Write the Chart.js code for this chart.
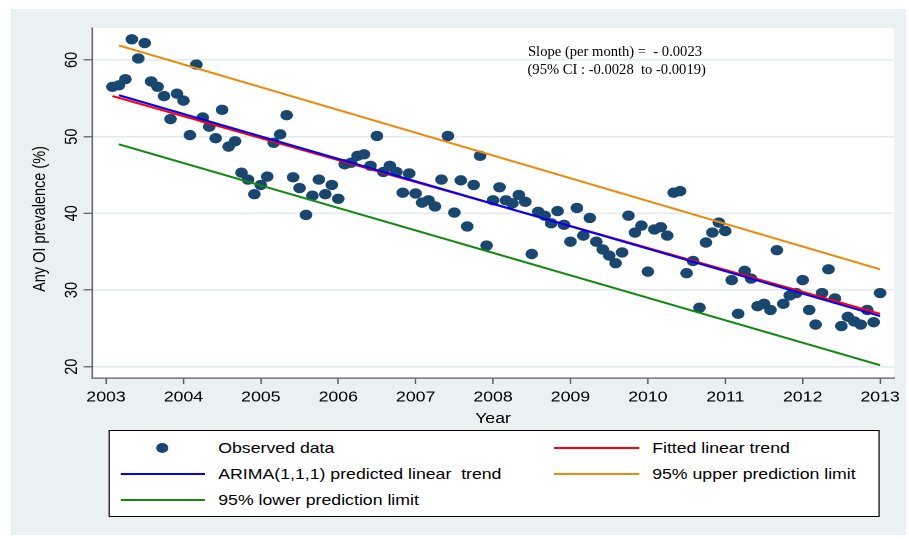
<!DOCTYPE html>
<html>
<head>
<meta charset="utf-8">
<script src="https://cdn.jsdelivr.net/npm/chart.js@4/dist/chart.umd.min.js"></script>
<style>
  html, body { margin:0; padding:0; background:#ffffff; width:909px; height:539px; overflow:hidden; }
  #stage { position:absolute; left:0; top:0; width:745px; height:539px; transform:scaleX(1.2201); transform-origin:0 0; }
  #c { position:absolute; left:0; top:0; }
  #legend { position:absolute; left:88.5px; top:430px; width:632px; height:87px; box-sizing:border-box;
            border:1px solid #000; background:#fff; font-family:"Liberation Sans", Arial, sans-serif; font-size:14.5px; color:#000; }
  .item { position:absolute; height:20px; line-height:20px; white-space:pre; }
  .sym { position:absolute; }
  .note { position:absolute; font-family:"Liberation Serif", "Times New Roman", serif; font-size:14.6px; line-height:17px; white-space:pre; color:#000; }
</style>
</head>
<body>
<div id="stage">
  <canvas id="c" width="745" height="539"></canvas>
  <div id="legend"></div>
</div>
<div class="note" id="note1" style="left:528px; top:43px;"></div>
<div class="note" id="note2" style="left:527.5px; top:60.5px;"></div>
<script>
// ---------------- DATA ----------------
const startYear = 2003;
// monthly observed prevalence (%), Jan 2003 .. Dec 2012 (month index 1..120)
const observed = [
  56.5, 56.7, 57.5, 62.7, 60.2, 62.2, 57.2, 56.5, 55.3, 52.3, 55.6, 54.7,
  50.2, 59.4, 52.5, 51.3, 49.8, 53.5, 48.7, 49.4, 45.3, 44.4, 42.5, 43.7,
  44.8, 49.2, 50.3, 52.8, 44.7, 43.3, 39.8, 42.3, 44.4, 42.5, 43.7, 41.9,
  46.4, 46.6, 47.5, 47.7, 46.2, 50.1, 45.4, 46.2, 45.4, 42.7, 45.2, 42.6,
  41.4, 41.7, 40.9, 44.4, 50.1, 40.1, 44.3, 38.3, 43.7, 47.5, 35.8, 41.7,
  43.4, 41.7, 41.3, 42.4, 41.5, 34.7, 40.2, 39.7, 38.7, 40.3, 38.5, 36.3,
  40.7, 37.1, 39.4, 36.3, 35.3, 34.5, 33.5, 34.9, 39.7, 37.5, 38.4, 32.4,
  37.9, 38.2, 37.1, 42.7, 42.9, 32.2, 33.8, 27.7, 36.2, 37.5, 38.8, 37.7,
  31.3, 26.9, 32.5, 31.5, 27.9, 28.2, 27.4, 35.2, 28.2, 29.3, 29.6, 31.3,
  27.4, 25.5, 29.6, 32.7, 28.9, 25.3, 26.5, 25.9, 25.5, 27.4, 25.8, 29.6
];
const fittedMonths = [1, 120];
const fittedTrend  = [55.3, 26.9];
const predMonths   = [2, 120];
const arimaTrend   = [55.4, 26.6];
const upperLimit   = [61.9, 32.7];
const lowerLimit   = [49.0, 20.2];

const xTickLabels = [2003, 2004, 2005, 2006, 2007, 2008, 2009, 2010, 2011, 2012, 2013];
const yTickLabels = [20, 30, 40, 50, 60];

const xTitle = 'Year';
const yTitle = 'Any OI prevalence (%)';
const seriesNames = [
  'Observed data',
  'Fitted linear trend',
  'ARIMA(1,1,1) predicted linear  trend',
  '95% upper prediction limit',
  '95% lower prediction limit'
];
const noteLines = ['Slope (per month) =  - 0.0023', '(95% CI : -0.0028  to -0.0019)'];

// ---------------- STYLE ----------------
const SANS = '"Liberation Sans", Arial, sans-serif';
const FS = 14.5;
const BG = '#eaf1f3';
const GRID = '#e3ebee';
const AXIS = '#5a5a5a';
const COLORS = ['#1a476f', '#ff0000', '#0000ff', '#ec8a0c', '#118a11'];

const monthToYear = m => startYear + m / 12;
const pts = (months, vals) => vals.map((v, i) => ({ x: monthToYear(months[i]), y: v }));
const obsMonths = observed.map((_, i) => i + 1);

const datasets = [
  { label: seriesNames[0], data: pts(obsMonths, observed), showLine: false,
    pointRadius: 5.2, pointHoverRadius: 5.2, pointBackgroundColor: COLORS[0], pointBorderColor: COLORS[0],
    pointBorderWidth: 0, order: 10 },
  { label: seriesNames[1], data: pts(fittedMonths, fittedTrend), showLine: true, borderColor: COLORS[1], borderWidth: 2, pointRadius: 0, order: 3 },
  { label: seriesNames[2], data: pts(predMonths, arimaTrend), showLine: true, borderColor: COLORS[2], borderWidth: 2, pointRadius: 0, order: 2 },
  { label: seriesNames[3], data: pts(predMonths, upperLimit), showLine: true, borderColor: COLORS[3], borderWidth: 2, pointRadius: 0, order: 4 },
  { label: seriesNames[4], data: pts(predMonths, lowerLimit), showLine: true, borderColor: COLORS[4], borderWidth: 2, pointRadius: 0, order: 5 }
];

const bgPlugin = {
  id: 'bg',
  beforeDraw(chart) {
    const { ctx, chartArea: a } = chart;
    ctx.save();
    ctx.fillStyle = '#ffffff';
    ctx.fillRect(0, 0, chart.width, chart.height);
    ctx.fillStyle = BG;
    ctx.fillRect(9, 9, 733.5, 526);
    ctx.fillStyle = '#ffffff';
    ctx.fillRect(a.left, a.top, a.right - a.left, a.bottom - a.top);
    ctx.restore();
  },
  afterDraw(chart) {
    const { ctx } = chart;
    const ys = chart.scales.y;
    ctx.save();
    ctx.font = FS + 'px ' + SANS;
    ctx.fillStyle = '#000';
    ctx.textAlign = 'center';
    ctx.textBaseline = 'middle';
    yTickLabels.forEach(v => {
      const py = ys.getPixelForValue(v);
      ctx.save();
      ctx.translate(ys.left + 58.8, py);
      ctx.rotate(-Math.PI / 2);
      ctx.fillText(String(v), 0, 0);
      ctx.restore();
    });
    // y axis title
    ctx.save();
    ctx.translate(ys.left + 32.8, (ys.top + ys.bottom) / 2 + 16);
    ctx.rotate(-Math.PI / 2);
    ctx.fillText(yTitle, 0, 0);
    ctx.restore();
    ctx.restore();
  }
};

new Chart(document.getElementById('c'), {
  type: 'scatter',
  data: { datasets },
  options: {
    responsive: false,
    animation: false,
    devicePixelRatio: 2,
    layout: { padding: { left: 0, top: 28, right: 12.2, bottom: 101 } },
    plugins: { legend: { display: false }, tooltip: { enabled: false } },
    scales: {
      x: {
        type: 'linear', min: 2002.819, max: 2013.181,
        afterBuildTicks: s => { s.ticks = xTickLabels.map(v => ({ value: v })); },
        afterFit: s => { s.height = 60; },
        ticks: { font: { family: SANS, size: FS }, color: '#000', padding: 5, maxRotation: 0, minRotation: 0, autoSkip: false,
                 callback: v => String(v) },
        grid: { drawOnChartArea: false, drawTicks: true, tickLength: 6, tickColor: AXIS, tickWidth: 1.2 },
        border: { display: true, color: AXIS, width: 1.2 },
        title: { display: true, text: xTitle, color: '#000', font: { family: SANS, size: FS }, padding: { top: 0, bottom: 10.3 } }
      },
      y: {
        type: 'linear', min: 18.53, max: 64.17,
        afterBuildTicks: s => { s.ticks = yTickLabels.map(v => ({ value: v })); },
        afterFit: s => { s.width = 75.4; },
        ticks: { display: false },
        grid: { color: GRID, lineWidth: 1.6, drawTicks: true, tickLength: 7, tickColor: AXIS, tickWidth: 1.2 },
        border: { display: true, color: AXIS, width: 1.2 },
        title: { display: false }
      }
    }
  },
  plugins: [bgPlugin]
});

// ---------------- LEGEND (built from datasets) ----------------
const legend = document.getElementById('legend');
const rowCenters = [18, 44, 70];
const colSym = [[9, 78], [364, 434.5]];
const colText = [89.4, 445];
datasets.forEach((ds, i) => {
  const row = Math.floor(i / 2), col = i % 2;
  const cy = rowCenters[row] - 1;
  const [s0, s1] = colSym[col];
  const sym = document.createElement('div');
  sym.className = 'sym';
  if (ds.showLine) {
    sym.style.left = s0 + 'px';
    sym.style.width = (s1 - s0) + 'px';
    sym.style.top = (cy - 1) + 'px';
    sym.style.height = '2px';
    sym.style.background = ds.borderColor;
  } else {
    const r = ds.pointRadius;
    sym.style.left = ((s0 + s1) / 2 - r) + 'px';
    sym.style.top = (cy - r) + 'px';
    sym.style.width = (2 * r) + 'px';
    sym.style.height = (2 * r) + 'px';
    sym.style.borderRadius = '50%';
    sym.style.background = ds.pointBackgroundColor;
  }
  legend.appendChild(sym);
  const t = document.createElement('div');
  t.className = 'item';
  t.style.left = colText[col] + 'px';
  t.style.top = (cy - 10) + 'px';
  t.textContent = ds.label;
  legend.appendChild(t);
});

document.getElementById('note1').textContent = noteLines[0];
document.getElementById('note2').textContent = noteLines[1];
</script>
</body>
</html>
